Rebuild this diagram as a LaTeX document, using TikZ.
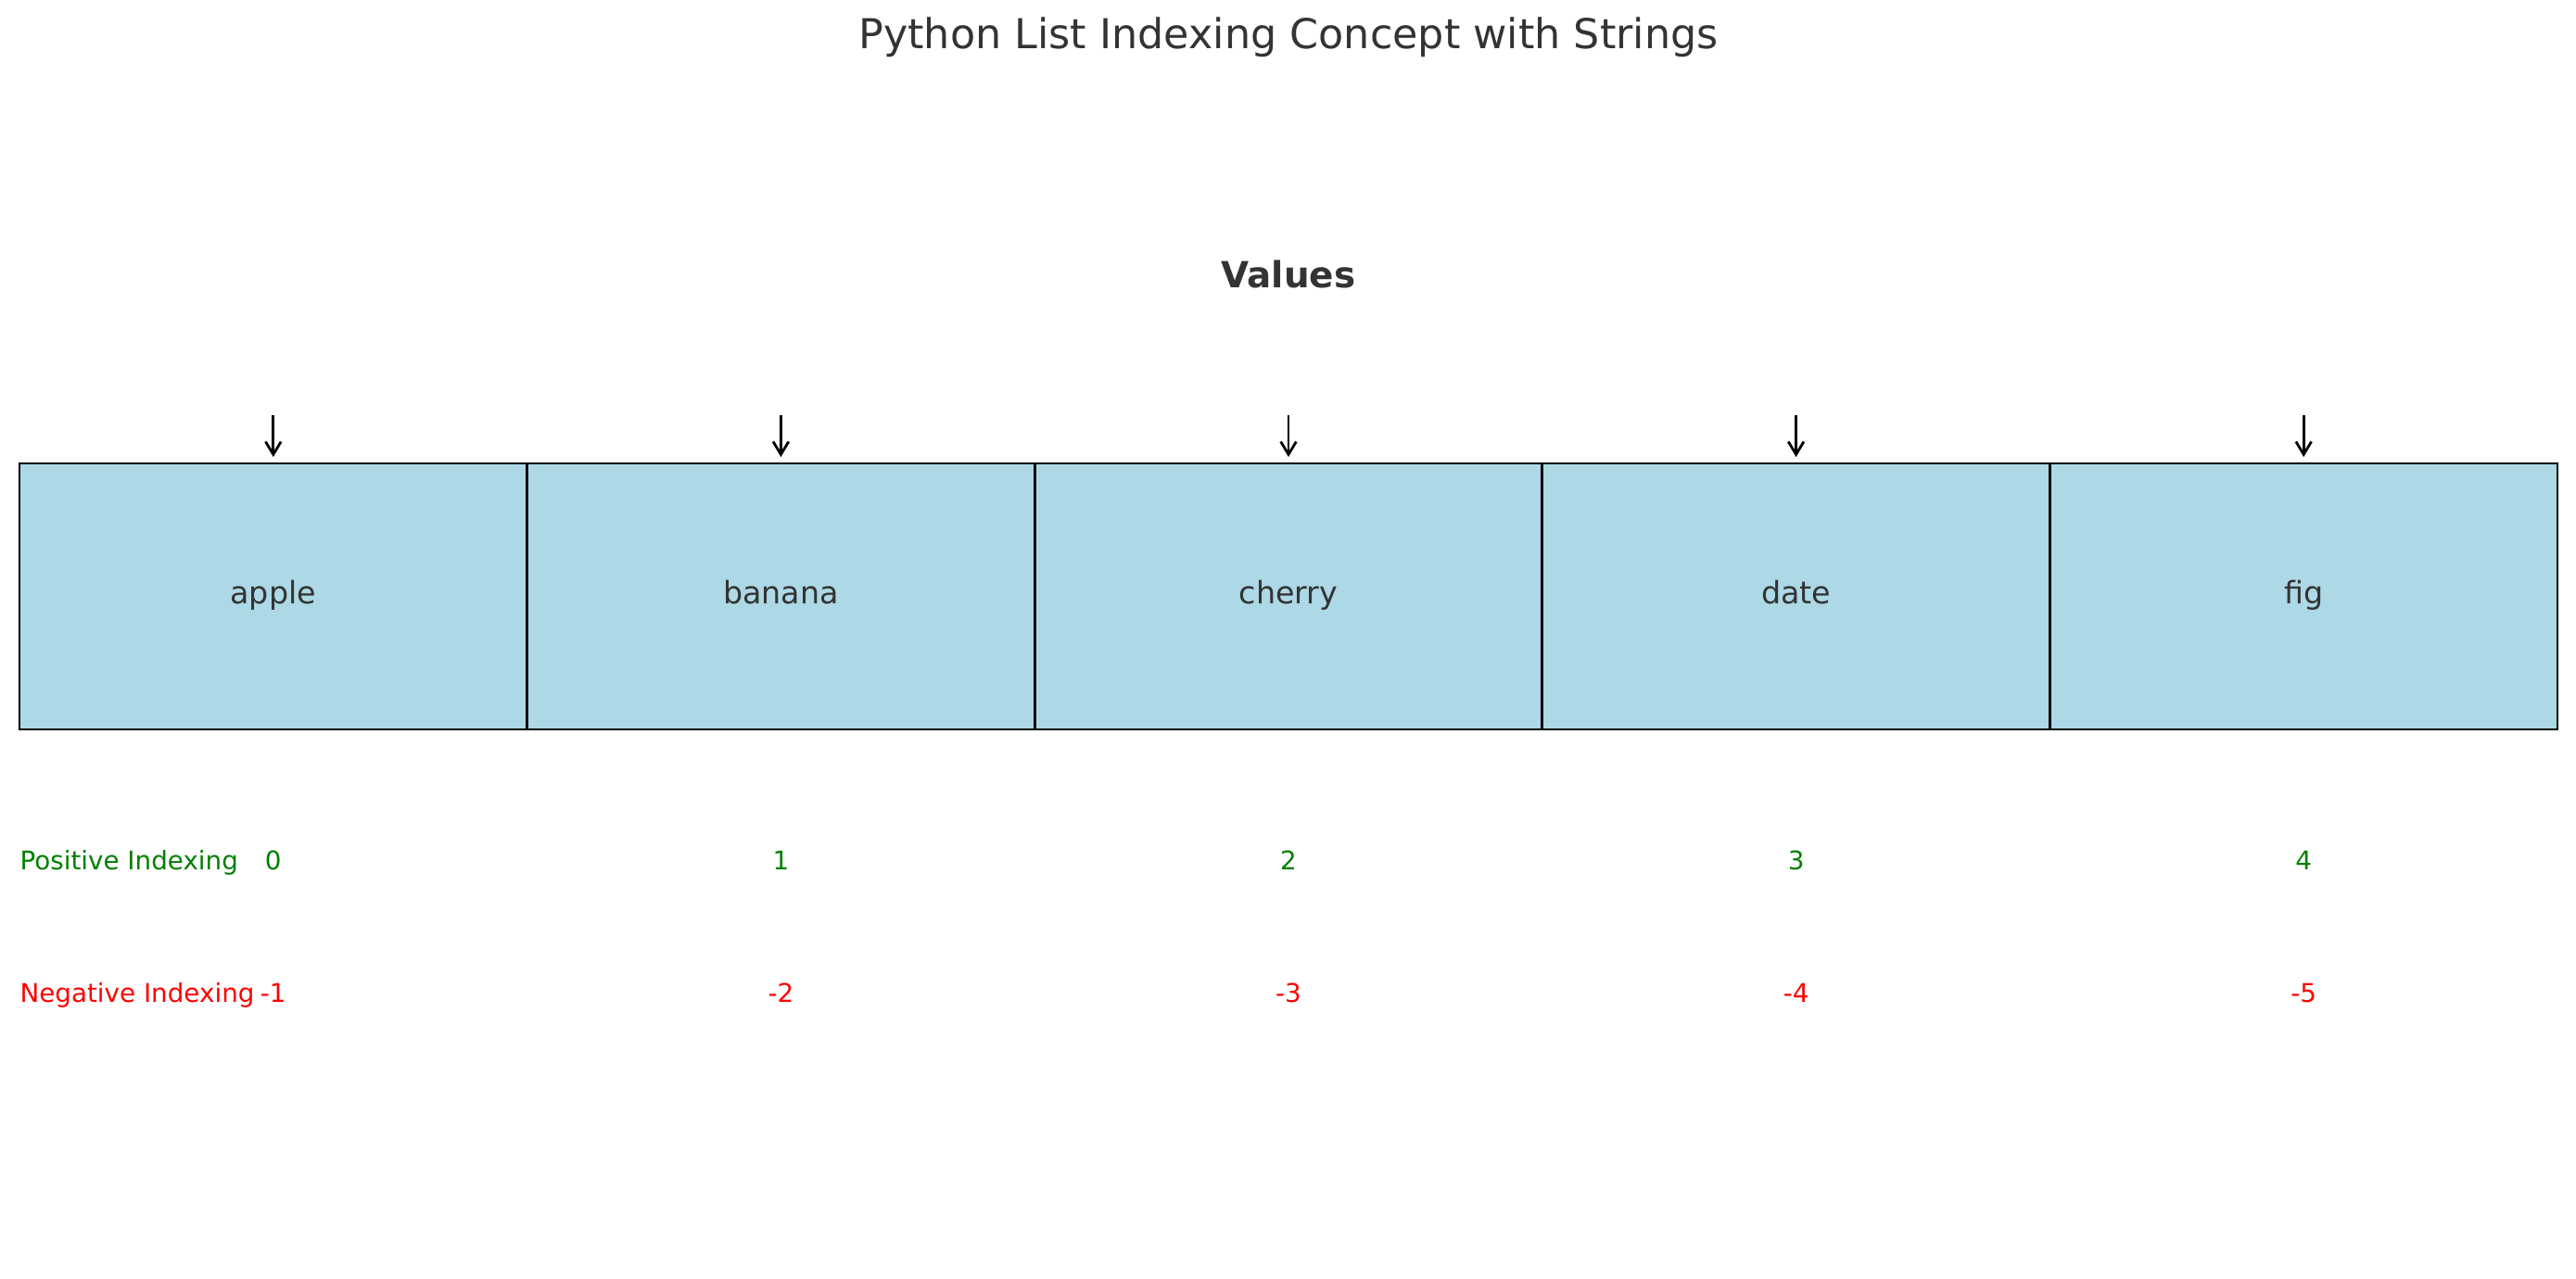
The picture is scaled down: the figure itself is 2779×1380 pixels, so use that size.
\documentclass[tikz,border=0pt]{standalone}
\usepackage{fontspec}
\setmainfont{DejaVu Sans}
\usetikzlibrary{arrows.meta, positioning}
\definecolor{cellblue}{RGB}{173,216,230}
\definecolor{textgray}{RGB}{51,51,51}
\definecolor{posgreen}{RGB}{0,128,0}
\definecolor{negred}{RGB}{255,0,0}

\begin{document}
\begin{tikzpicture}[
    x=0.36pt, y=-0.36pt,
    cell/.style={rectangle, draw=black, line width=1pt, fill=cellblue, minimum width=197.1pt, minimum height=103.3pt, inner sep=0pt, text=textgray, font=\fontsize{12}{14}\selectfont, text height=9pt, text depth=2.9pt},
    pointer/.style={-{Straight Barb[length=5pt, width=6pt]}, line width=1pt, shorten >=2pt},
    posidx/.style={text=posgreen, font=\fontsize{10}{12}\selectfont, inner sep=0pt},
    negidx/.style={text=negred, font=\fontsize{10}{12}\selectfont, inner sep=0pt}
]
\useasboundingbox (0,0) rectangle (2779,1380);

% Title and header
\node[text=textgray, font=\fontsize{16}{19}\selectfont, anchor=base, inner sep=0pt] (title) at (1390, 53) {Python List Indexing Concept with Strings};
\node[text=textgray, font=\fontsize{14}{17}\selectfont\bfseries, anchor=base, inner sep=0pt] (values) at (1390, 311) {Values};

% Row labels
\node[posidx, anchor=base west] (poslabel) at (21, 938) {Positive Indexing};
\node[negidx, anchor=base west] (neglabel) at (21, 1081) {Negative Indexing};

% Cells, pointers and indices
\foreach \word [count=\i from 0, evaluate=\i as \k using int(-\i-1)] in {apple, banana, cherry, date, fig} {
    \node[cell] (cell\i) at ({294.8 + 547.6*\i}, 643.5) {\word};
    \coordinate (ptr\i) at ({294.8 + 547.6*\i}, 448);
    \draw[pointer] (ptr\i) -- (cell\i.north);
    \node[posidx, anchor=base] (pos\i) at ({294.8 + 547.6*\i}, 938) {\i};
    \node[negidx, anchor=base] (neg\i) at ({294.8 + 547.6*\i}, 1081) {\k};
}

\end{tikzpicture}
\end{document}
